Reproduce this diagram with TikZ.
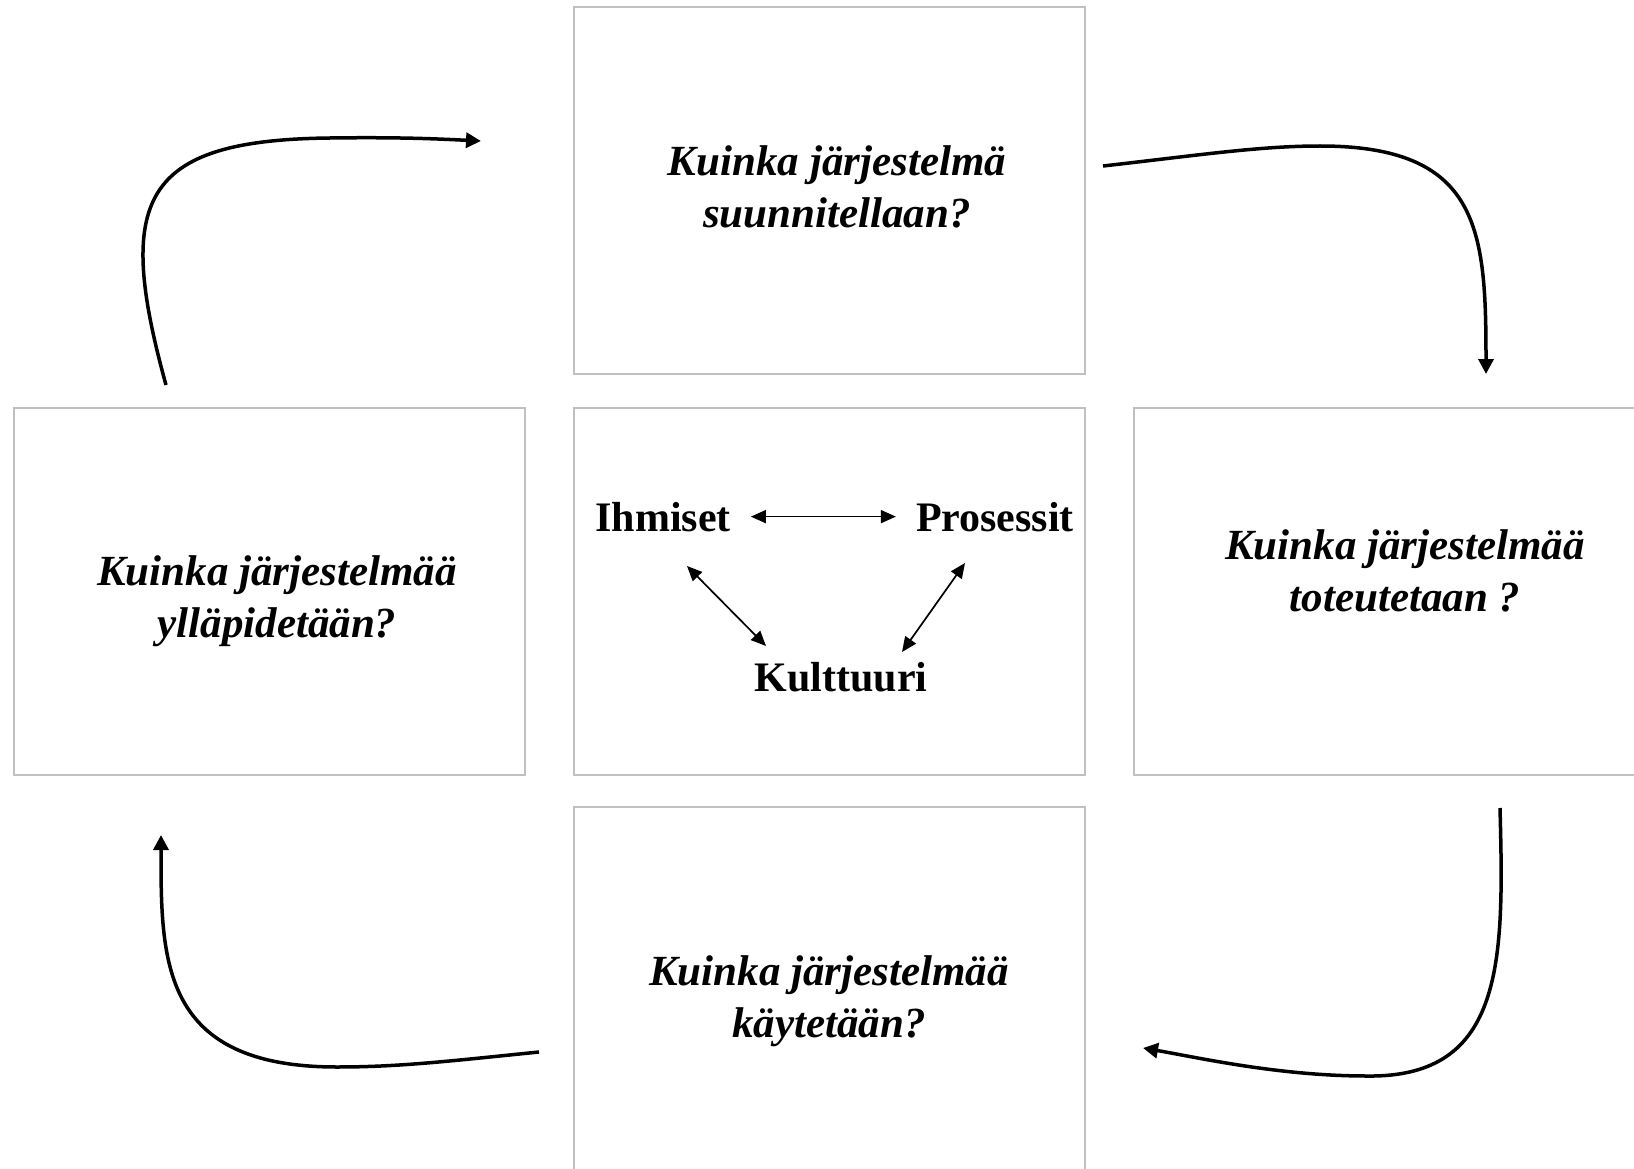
\documentclass[tikz,border=0pt]{standalone}
\usepackage{fontspec}
\setmainfont{Liberation Serif}
\usetikzlibrary{arrows.meta,calc}
\definecolor{boxgray}{RGB}{192,192,192}
\begin{document}
\begin{tikzpicture}[x=1pt,y=-1pt,
  box/.style={draw=boxgray,line width=2pt,minimum width=511pt,minimum height=367pt,inner sep=0pt},
  qtext/.style={align=center,font=\fontsize{43}{52}\selectfont\bfseries\itshape,inner sep=0pt},
  ltext/.style={font=\fontsize{42}{50}\selectfont\bfseries,inner sep=0pt,anchor=base},
  small/.style={{Triangle[length=15pt,width=13pt]}-{Triangle[length=15pt,width=13pt]},line width=1.7pt},
  big/.style={-{Triangle[length=15pt,width=15pt]},line width=3.5pt}]
\path[use as bounding box] (0,0) rectangle (1634,1169);
\clip (0,0) rectangle (1634,1169);
% boxes
\node[box] (boxT) at (829.5,190.5) {};
\node[box] (boxL) at (269.5,591) {};
\node[box] (boxC) at (829.5,591) {};
\node[box] (boxR) at (1389.5,591) {};
\node[box] (boxB) at (829.5,990.5) {};
% questions
\node[qtext] (tT) at (837,187) {Kuinka järjestelmä\\suunnitellaan?};
\node[qtext] (tL) at (277,601) {Kuinka järjestelmää\\ylläpidetään?};
\node[qtext] (tR) at (1405,571) {Kuinka järjestelmää\\toteutetaan ?};
\node[qtext] (tB) at (829,1001) {Kuinka järjestelmää\\käytetään?};
% centre labels
\node[ltext] (ihm) at (663,531) {Ihmiset};
\node[ltext] (pro) at (995,531) {Prosessit};
\node[ltext] (kul) at (841,691) {Kulttuuri};
\draw[small,shorten <=20pt,shorten >=20pt] (ihm.east) -- (pro.west);
\draw[small] ($(ihm.base)+(24,35)$) -- ($(kul.base)+(-75,-45)$);
\draw[small] ($(pro.base)+(-30,32)$) -- ($(kul.base)+(61,-39)$);
% cycle arrows
\coordinate (a1s) at (166,385);
\coordinate (a1e) at (481,141);
\coordinate (a2s) at (1103,166);
\coordinate (a2e) at (1486,374);
\coordinate (a3s) at (1500,808);
\coordinate (a3e) at (1143,1048);
\coordinate (a4s) at (539,1052);
\coordinate (a4e) at (161,835);
\draw[big] (a1s) .. controls (115,200) and (140,140) .. (330,138) .. controls (400,137) and (440,139) .. (a1e);
\draw[big] (a2s) .. controls (1200,155) and (1260,146) .. (1320,146) .. controls (1480,146) and (1486,230) .. (a2e);
\draw[big] (a3s) .. controls (1504,960) and (1505,1078) .. (1367,1076) .. controls (1280,1076) and (1200,1058) .. (a3e);
\draw[big] (a4s) .. controls (450,1061) and (400,1067) .. (337,1067) .. controls (160,1067) and (161,960) .. (a4e);
\end{tikzpicture}
\end{document}
